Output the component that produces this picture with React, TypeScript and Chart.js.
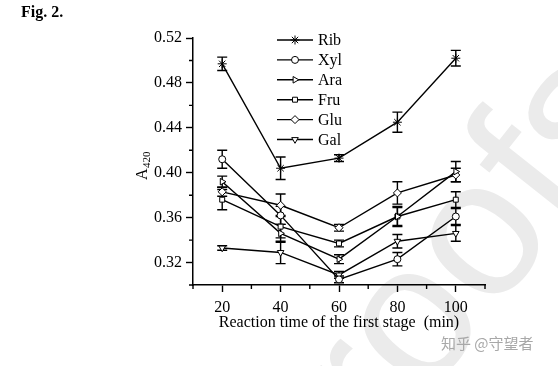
import React, { useEffect, useRef } from "react";
import { Chart, registerables } from "chart.js";
import { drawPoint } from "chart.js/helpers";

Chart.register(...registerables);

const times = [20, 40, 60, 80, 100];
const seriesNames = ["Rib", "Xyl", "Ara", "Fru", "Glu", "Gal"];
const rib = [0.497, 0.404, 0.413, 0.445, 0.502];
const xyl = [0.412, 0.362, 0.305, 0.323, 0.361];
const ara = [0.392, 0.346, 0.323, 0.361, 0.401];
const fru = [0.376, 0.352, 0.337, 0.361, 0.376];
const glu = [0.383, 0.371, 0.351, 0.382, 0.398];
const gal = [0.333, 0.329, 0.309, 0.339, 0.346];
const ribErr = [0.006, 0.010, 0.003, 0.009, 0.007];
const xylErr = [0.008, 0.008, 0.003, 0.006, 0.007];
const araErr = [0.005, 0.008, 0.004, 0.008, 0.009];
const fruErr = [0.009, 0.010, 0.003, 0.009, 0.007];
const gluErr = [0.004, 0.010, 0.003, 0.010, 0.006];
const galErr = [0.002, 0.010, 0.003, 0.006, 0.007];
const xTickLabels = [20, 40, 60, 80, 100];
const yTickLabels = [0.32, 0.36, 0.40, 0.44, 0.48, 0.52];

const values = [rib, xyl, ara, fru, glu, gal];
const errors = [ribErr, xylErr, araErr, fruErr, gluErr, galErr];
const styles = [
  { pointStyle: "star", rotation: 0, radius: 4.5 },
  { pointStyle: "circle", rotation: 0, radius: 3.5 },
  { pointStyle: "triangle", rotation: 90, radius: 3.8 },
  { pointStyle: "rect", rotation: 0, radius: 3.5 },
  { pointStyle: "rectRot", rotation: 0, radius: 4 },
  { pointStyle: "triangle", rotation: 180, radius: 3.8 },
];

const SERIF = "'Liberation Serif', 'Times New Roman', serif";

const errorBarPlugin = {
  id: "errorBars",
  beforeDatasetsDraw(chart: any) {
    const { ctx, scales } = chart;
    const xs = scales.x, ys = scales.y;
    ctx.save();
    ctx.strokeStyle = "#000";
    ctx.lineWidth = 1.4;
    values.forEach((arr, si) => {
      arr.forEach((v, i) => {
        const e = errors[si][i];
        const px = xs.getPixelForValue(times[i]);
        const top = ys.getPixelForValue(v + e);
        const bot = ys.getPixelForValue(v - e);
        ctx.beginPath();
        ctx.moveTo(px, top);
        ctx.lineTo(px, bot);
        ctx.moveTo(px - 5, top);
        ctx.lineTo(px + 5, top);
        ctx.moveTo(px - 5, bot);
        ctx.lineTo(px + 5, bot);
        ctx.stroke();
      });
    });
    ctx.restore();
  },
};

const decorPlugin = {
  id: "decor",
  beforeDraw(chart: any) {
    const { ctx } = chart;
    ctx.save();
    // faint diagonal watermark
    const S = 195;
    ctx.translate(418, 327);
    ctx.rotate(-51.6 * Math.PI / 180);
    ctx.fillStyle = "#ebebeb";
    ctx.font = S + "px 'Liberation Sans', Arial, sans-serif";
    ctx.textAlign = "left";
    ctx.textBaseline = "alphabetic";
    ctx.fillText("roofs", -0.611 * S, 0.26 * S);
    ctx.restore();
  },
  afterDraw(chart: any) {
    const { ctx, scales } = chart;
    const xs = scales.x, ys = scales.y;
    ctx.save();
    ctx.strokeStyle = "#000";
    ctx.lineWidth = 1.4;
    // minor ticks
    ctx.beginPath();
    for (let v = 10; v <= 110; v += 20) {
      const px = xs.getPixelForValue(v);
      ctx.moveTo(px, ys.bottom);
      ctx.lineTo(px, ys.bottom + 4);
    }
    for (let k = 30; k <= 50; k += 4) {
      const py = ys.getPixelForValue(k / 100);
      ctx.moveTo(xs.left, py);
      ctx.lineTo(xs.left - 4, py);
    }
    ctx.stroke();

    // Fig. 2.
    ctx.fillStyle = "#000";
    ctx.font = "bold 16px " + SERIF;
    ctx.textAlign = "left";
    ctx.textBaseline = "alphabetic";
    ctx.fillText("Fig. 2.", 21, 17);

    // x axis title
    ctx.font = "16px " + SERIF;
    ctx.textAlign = "center";
    ctx.textBaseline = "middle";
    ctx.fillText("Reaction time of the first stage  (min)", (xs.left + xs.right) / 2, 323);

    // y axis title A420
    ctx.save();
    ctx.translate(147, 180);
    ctx.rotate(-Math.PI / 2);
    ctx.textAlign = "left";
    ctx.textBaseline = "alphabetic";
    ctx.font = "16px " + SERIF;
    ctx.fillText("A", 0, 0);
    ctx.font = "11px " + SERIF;
    ctx.fillText("420", 12, 3);
    ctx.restore();

    // legend
    seriesNames.forEach((name, i) => {
      const y = 40 + i * 19.9;
      ctx.strokeStyle = "#000";
      ctx.lineWidth = 1.4;
      ctx.beginPath();
      ctx.moveTo(277, y);
      ctx.lineTo(313, y);
      ctx.stroke();
      ctx.fillStyle = "#fff";
      ctx.lineWidth = 1;
      drawPoint(ctx, { pointStyle: styles[i].pointStyle, radius: styles[i].radius, rotation: styles[i].rotation, borderWidth: 1 } as any, 295, y);
      ctx.fillStyle = "#000";
      ctx.font = "16px " + SERIF;
      ctx.textAlign = "left";
      ctx.textBaseline = "middle";
      ctx.fillText(name, 318, y + 1);
    });

    // site watermark
    ctx.fillStyle = "#a8a8a8";
    ctx.font = "15px 'Noto Sans CJK SC', sans-serif";
    ctx.textAlign = "left";
    ctx.textBaseline = "middle";
    ctx.fillText("知乎 @守望者", 441, 343);
    ctx.restore();
  },
};

export default function App() {
  const ref = useRef<HTMLCanvasElement | null>(null);
  useEffect(() => {
    if (!ref.current) return;
    const chart = new Chart(ref.current, {
      type: "line",
      data: {
        datasets: seriesNames.map((name, si) => ({
          label: name,
          data: times.map((t, i) => ({ x: t, y: values[si][i] })),
          borderColor: "#000",
          borderWidth: 1.4,
          backgroundColor: "#fff",
          pointBackgroundColor: "#fff",
          pointBorderColor: "#000",
          pointBorderWidth: 1,
          pointStyle: styles[si].pointStyle as any,
          pointRotation: styles[si].rotation,
          pointRadius: styles[si].radius,
          tension: 0,
          fill: false,
        })),
      },
      options: {
        responsive: false,
        animation: false,
        layout: { padding: { left: 0, right: 73, top: 38, bottom: 0 } },
        plugins: { legend: { display: false }, tooltip: { enabled: false } },
        scales: {
          x: {
            type: "linear",
            min: 10,
            max: 110,
            afterFit: (s: any) => { s.height = 81; },
            ticks: {
              stepSize: 10,
              autoSkip: false,
              maxRotation: 0,
              padding: 6,
              color: "#000",
              font: { family: SERIF, size: 16 },
              callback: (v: any) => (xTickLabels.includes(Number(v)) ? String(v) : ""),
            },
            grid: {
              drawOnChartArea: false,
              drawTicks: true,
              tickLength: 7,
              tickWidth: 1.4,
              tickColor: (c: any) => (xTickLabels.includes(Math.round(c.tick?.value)) ? "#000" : "rgba(0,0,0,0)"),
            },
            border: { display: true, color: "#000", width: 1.5 },
          },
          y: {
            type: "linear",
            min: 0.3,
            max: 0.52,
            afterFit: (s: any) => { s.width = 193; },
            ticks: {
              stepSize: 0.02,
              autoSkip: false,
              padding: 4,
              color: "#000",
              font: { family: SERIF, size: 16 },
              callback: (v: any) => {
                const k = Math.round(Number(v) * 100);
                return yTickLabels.some((t) => Math.round(t * 100) === k) ? (k / 100).toFixed(2) : "";
              },
            },
            grid: {
              drawOnChartArea: false,
              drawTicks: true,
              tickLength: 7,
              tickWidth: 1.4,
              tickColor: (c: any) => {
                const k = Math.round((c.tick?.value ?? 0) * 100);
                return yTickLabels.some((t) => Math.round(t * 100) === k) ? "#000" : "rgba(0,0,0,0)";
              },
            },
            border: { display: true, color: "#000", width: 1.5 },
          },
        },
      },
      plugins: [errorBarPlugin, decorPlugin],
    });
    return () => chart.destroy();
  }, []);
  return (
    <div style={{ position: "absolute", left: 0, top: 0, width: 558, height: 366, background: "#fff" }}>
      <canvas ref={ref} width={558} height={366} style={{ display: "block" }} />
    </div>
  );
}
